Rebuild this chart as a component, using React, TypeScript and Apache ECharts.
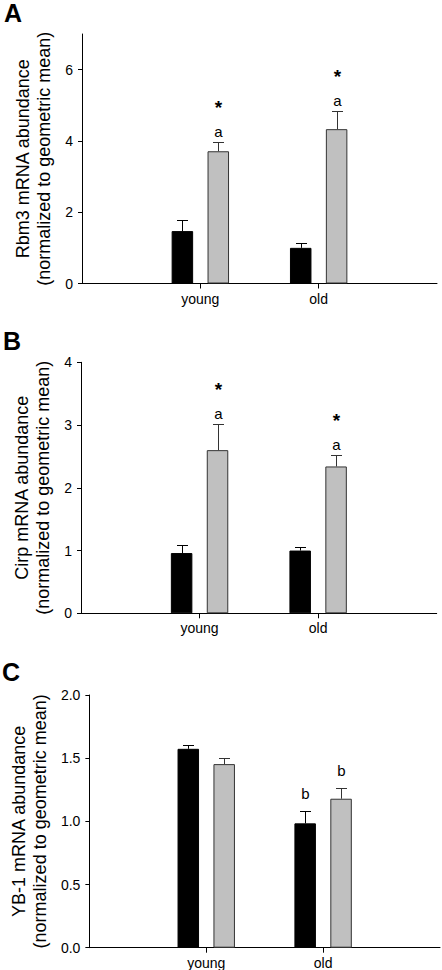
import React, { useEffect, useRef } from "react";
import * as echarts from "echarts";

const groups = ["young", "old"];
const categories = ["", ...groups, ""];

// Panel A: Rbm3
const rbm3Ctrl = [1.47, 1.0];
const rbm3CtrlErr = [0.3, 0.15];
const rbm3Cold = [3.71, 4.33];
const rbm3ColdErr = [0.25, 0.5];
const rbm3CtrlLetters = ["", ""];
const rbm3ColdLetters = ["a", "a"];
const rbm3ColdStars = ["*", "*"];

// Panel B: Cirp
const cirpCtrl = [0.96, 1.0];
const cirpCtrlErr = [0.13, 0.06];
const cirpCold = [2.6, 2.34];
const cirpColdErr = [0.42, 0.18];
const cirpCtrlLetters = ["", ""];
const cirpColdLetters = ["a", "a"];
const cirpColdStars = ["*", "*"];

// Panel C: YB-1
const yb1Ctrl = [1.574, 0.984];
const yb1CtrlErr = [0.032, 0.1];
const yb1Cold = [1.453, 1.179];
const yb1ColdErr = [0.047, 0.087];
const yb1CtrlLetters = ["", "b"];
const yb1ColdLetters = ["", "b"];
const noStars = ["", ""];

const yTicksA = [0, 2, 4, 6];
const yTicksB = [0, 1, 2, 3, 4];
const yTicksC = [0, 0.5, 1.0, 1.5, 2.0];

const FONT = "Liberation Sans, Arial, sans-serif";
const BAR_W = 21.5;
const HALF_OFF = 18;

const panels = [
  {
    letter: "A",
    title: "Rbm3 mRNA abundance\n(normalized to geometric mean)",
    grid: { left: 82, top: 34, width: 355, height: 249.5 },
    max: 7,
    ticks: yTicksA,
    decimals: 0,
    ctrl: rbm3Ctrl, ctrlErr: rbm3CtrlErr, cold: rbm3Cold, coldErr: rbm3ColdErr,
    ctrlLetters: rbm3CtrlLetters, coldLetters: rbm3ColdLetters, stars: rbm3ColdStars,
    letterGap: 4,
    letterPos: { x: 4, y: 0 },
  },
  {
    letter: "B",
    title: "Cirp mRNA abundance\n(normalized to geometric mean)",
    grid: { left: 81, top: 362.3, width: 355.7, height: 251 },
    max: 4,
    ticks: yTicksB,
    decimals: 0,
    ctrl: cirpCtrl, ctrlErr: cirpCtrlErr, cold: cirpCold, coldErr: cirpColdErr,
    ctrlLetters: cirpCtrlLetters, coldLetters: cirpColdLetters, stars: cirpColdStars,
    letterGap: 4,
    letterPos: { x: 3, y: 328 },
  },
  {
    letter: "C",
    title: "YB-1 mRNA abundance\n(normalized to geometric mean)",
    grid: { left: 79, top: 695, width: 361, height: 252.7 },
    max: 2,
    ticks: yTicksC,
    decimals: 1,
    ctrl: yb1Ctrl, ctrlErr: yb1CtrlErr, cold: yb1Cold, coldErr: yb1ColdErr,
    ctrlLetters: yb1CtrlLetters, coldLetters: yb1ColdLetters, stars: noStars,
    letterGap: 11,
    letterPos: { x: 2, y: 659 },
  },
];

function pad(arr: number[]) {
  return ["-", ...arr, "-"];
}

function errorSeries(
  idx: number,
  means: number[],
  errs: number[],
  letters: string[],
  stars: string[],
  offset: number,
  color: string,
  letterGap: number
) {
  const data = means.map((m, i) => [i + 1, m, errs[i]]);
  return {
    type: "custom",
    xAxisIndex: idx,
    yAxisIndex: idx,
    z: 5,
    silent: true,
    data,
    renderItem: (params: any, api: any) => {
      const di = params.dataIndex;
      const cat = api.value(0);
      const mean = api.value(1);
      const err = api.value(2);
      const x = Math.round(api.coord([cat, mean])[0] + offset) + 0.5;
      const yMean = api.coord([cat, mean])[1];
      const yTop = Math.round(api.coord([cat, mean + err])[1]) + 0.5;
      const children: any[] = [
        {
          type: "line",
          shape: { x1: x, y1: yMean, x2: x, y2: yTop },
          style: { stroke: color, lineWidth: 1 },
        },
        {
          type: "line",
          shape: { x1: x - 5.5, y1: yTop, x2: x + 5.5, y2: yTop },
          style: { stroke: color, lineWidth: 1 },
        },
      ];
      if (letters[di]) {
        children.push({
          type: "text",
          x: x,
          y: yTop - letterGap,
          style: {
            text: letters[di],
            fontSize: 15,
            fontFamily: FONT,
            fill: "#000",
            align: "center",
            verticalAlign: "bottom",
          },
        });
      }
      if (stars[di]) {
        children.push({
          type: "text",
          x: x,
          y: yTop - letterGap - 22,
          style: {
            text: stars[di],
            fontSize: 19,
            fontWeight: "bold",
            fontFamily: FONT,
            fill: "#000",
            align: "center",
            verticalAlign: "bottom",
          },
        });
      }
      return { type: "group", children };
    },
  };
}

export default function App() {
  const ref = useRef<HTMLDivElement>(null);
  useEffect(() => {
    if (!ref.current) return;
    const chart = echarts.init(ref.current, undefined, { renderer: "svg" });
    const grids: any[] = [];
    const xAxes: any[] = [];
    const yAxes: any[] = [];
    const series: any[] = [];
    const graphics: any[] = [];
    panels.forEach((p, idx) => {
      grids.push({ ...p.grid, containLabel: false });
      xAxes.push({
        type: "category",
        gridIndex: idx,
        data: categories,
        boundaryGap: false,
        axisLine: { lineStyle: { color: "#000", width: 1 } },
        axisTick: {
          show: true,
          length: 5,
          interval: (i: number, v: string) => v !== "",
          lineStyle: { color: "#000" },
        },
        axisLabel: {
          interval: (i: number, v: string) => v !== "",
          color: "#000",
          fontSize: 14,
          fontFamily: FONT,
          margin: 8,
        },
        splitLine: { show: false },
      });
      yAxes.push({
        type: "value",
        gridIndex: idx,
        min: 0,
        max: p.max,
        name: p.title,
        nameLocation: "middle",
        nameRotate: 90,
        nameGap: 28,
        nameTextStyle: {
          color: "#000",
          fontSize: 18,
          fontFamily: FONT,
          lineHeight: 21,
        },
        axisLine: { show: true, lineStyle: { color: "#000", width: 1 } },
        axisTick: {
          show: true,
          length: 4,
          customValues: p.ticks,
          lineStyle: { color: "#000" },
        },
        axisLabel: {
          customValues: p.ticks,
          color: "#000",
          fontSize: 14,
          fontFamily: FONT,
          margin: 9,
          formatter: (v: number) => v.toFixed(p.decimals),
        },
        splitLine: { show: false },
      });
      series.push({
        type: "bar",
        xAxisIndex: idx,
        yAxisIndex: idx,
        data: pad(p.ctrl),
        barWidth: BAR_W,
        barGap: "67%",
        itemStyle: { color: "#000", borderColor: "#000", borderWidth: 1 },
        silent: true,
      });
      series.push({
        type: "bar",
        xAxisIndex: idx,
        yAxisIndex: idx,
        data: pad(p.cold),
        barWidth: BAR_W,
        barGap: "67%",
        itemStyle: { color: "#c0c0c0", borderColor: "#333", borderWidth: 1 },
        silent: true,
      });
      series.push(
        errorSeries(idx, p.ctrl, p.ctrlErr, p.ctrlLetters, noStars, -HALF_OFF, "#000", p.letterGap)
      );
      series.push(
        errorSeries(idx, p.cold, p.coldErr, p.coldLetters, p.stars, HALF_OFF, "#333", p.letterGap)
      );
      graphics.push({
        type: "text",
        left: p.letterPos.x,
        top: p.letterPos.y,
        style: {
          text: p.letter,
          fontSize: 25,
          fontWeight: "bold",
          fontFamily: FONT,
          fill: "#000",
        },
      });
    });
    chart.setOption({
      animation: false,
      backgroundColor: "#fff",
      grid: grids,
      xAxis: xAxes,
      yAxis: yAxes,
      series,
      graphic: graphics,
    });
    return () => chart.dispose();
  }, []);
  return (
    <div
      ref={ref}
      style={{ position: "absolute", left: 0, top: 0, width: 442, height: 970 }}
    />
  );
}
